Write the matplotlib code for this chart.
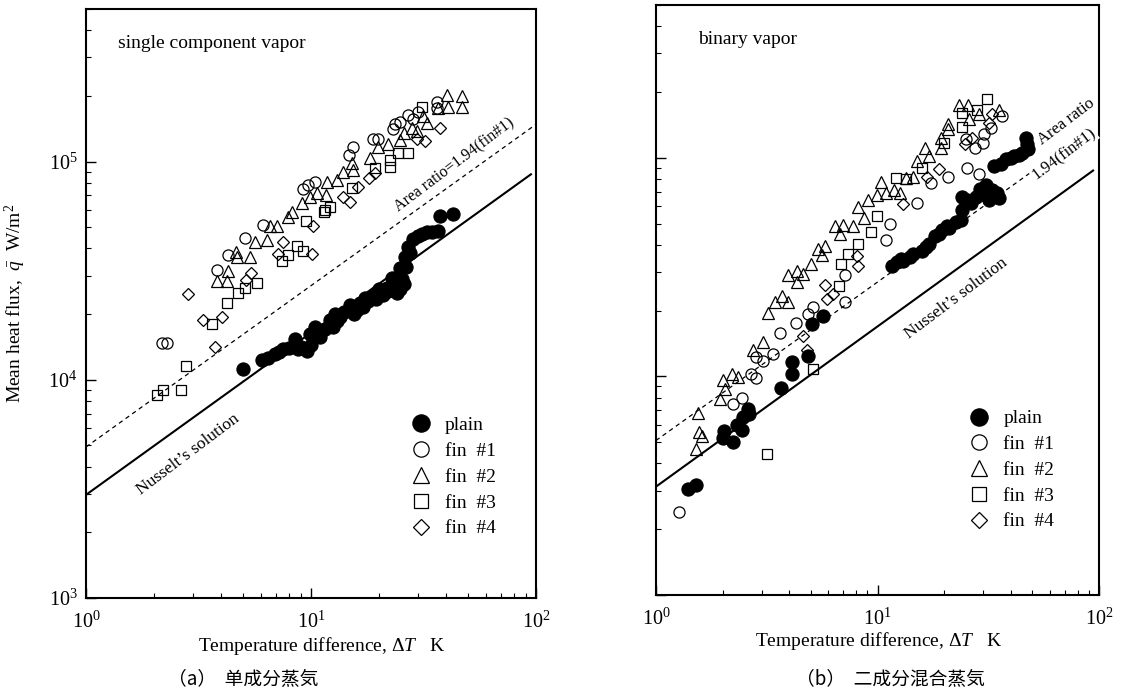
import matplotlib
matplotlib.use("Agg")
import matplotlib.pyplot as plt
from matplotlib.lines import Line2D
from matplotlib.ticker import LogLocator, NullFormatter

plt.rcParams['font.family'] = ['Liberation Serif', 'Noto Sans CJK SC', 'DejaVu Sans']
plt.rcParams['mathtext.fontset'] = 'custom'
plt.rcParams['mathtext.rm'] = 'Liberation Serif'
plt.rcParams['mathtext.it'] = 'Liberation Serif:italic'
plt.rcParams['mathtext.bf'] = 'Liberation Serif:bold'

# ---------------- data: (a) single component vapor ----------------
plain_a_x = [4.99, 6.06, 6.44, 6.92, 7.51, 8.49, 8.75, 9.60, 9.90, 10.4, 11.0, 12.1, 13.5, 14.9,
             16.0, 17.4, 18.9, 20.3, 21.8, 22.9, 24.1, 24.9, 26.2, 27.0, 29.9, 32.8, 36.7, 37.4, 42.8,
             10.0, 10.8, 11.5, 12.5, 13.0, 14.0, 15.5, 16.5, 18.0, 19.5, 21.0, 22.0, 23.5, 25.0,
             25.5, 26.5, 27.5, 28.5, 31.0, 34.5, 9.0, 7.2, 8.0, 12.8, 17.0, 20.0, 24.0, 26.0]
plain_a_y = [1.12e4, 1.23e4, 1.26e4, 1.31e4, 1.38e4, 1.54e4, 1.39e4, 1.35e4, 1.62e4, 1.75e4, 1.57e4,
             1.88e4, 1.94e4, 2.21e4, 2.08e4, 2.38e4, 2.43e4, 2.51e4, 2.64e4, 2.93e4, 2.78e4, 3.24e4,
             3.67e4, 4.07e4, 4.56e4, 4.75e4, 4.81e4, 5.61e4, 5.73e4,
             1.45e4, 1.65e4, 1.70e4, 1.75e4, 1.85e4, 2.05e4, 2.00e4, 2.25e4, 2.30e4, 2.35e4, 2.45e4,
             2.55e4, 2.60e4, 2.60e4, 2.90e4, 3.30e4, 3.80e4, 4.40e4, 4.65e4, 4.75e4, 1.42e4, 1.34e4,
             1.40e4, 2.00e4, 2.15e4, 2.60e4, 2.50e4, 2.75e4]

fin1_a_x = [2.18, 2.29, 3.82, 4.28, 5.09, 6.12, 9.21, 9.70, 10.4, 14.8, 15.4, 18.9, 19.9, 23.1,
            23.6, 24.9, 27.0, 29.9, 28.4, 36.3, 36.3]
fin1_a_y = [1.48e4, 1.48e4, 3.18e4, 3.72e4, 4.47e4, 5.12e4, 7.48e4, 7.80e4, 8.05e4, 1.07e5, 1.16e5,
            1.27e5, 1.27e5, 1.41e5, 1.48e5, 1.51e5, 1.64e5, 1.68e5, 1.56e5, 1.88e5, 1.75e5]

fin2_a_x = [3.82, 4.23, 4.28, 4.69, 4.64, 5.35, 5.64, 6.37, 7.06, 6.57, 7.90, 8.24, 9.12, 9.91,
            10.6, 11.7, 11.8, 13.1, 13.9, 15.2, 15.4, 18.3, 19.9, 22.0, 24.9, 25.9, 28.1, 29.6,
            32.8, 31.5, 36.7, 40.2, 40.6, 46.9, 46.9]
fin2_a_y = [2.84e4, 2.84e4, 3.15e4, 3.64e4, 3.86e4, 3.67e4, 4.29e4, 4.38e4, 5.06e4, 5.06e4, 5.55e4,
            5.85e4, 6.49e4, 6.90e4, 7.19e4, 7.05e4, 8.05e4, 8.22e4, 8.93e4, 9.80e4, 9.12e4, 1.04e5,
            1.16e5, 1.20e5, 1.26e5, 1.35e5, 1.42e5, 1.38e5, 1.50e5, 1.61e5, 1.75e5, 2.02e5, 1.77e5,
            2.00e5, 1.77e5]

fin3_a_x = [2.07, 2.20, 2.64, 2.78, 3.63, 4.23, 4.74, 5.09, 5.75, 7.43, 7.90, 8.66, 9.21, 9.50,
            11.5, 12.1, 15.2, 19.2, 22.4, 22.4, 24.4, 27.0, 31.1, 11.4]
fin3_a_y = [8.51e3, 8.98e3, 8.98e3, 1.16e4, 1.80e4, 2.24e4, 2.51e4, 2.64e4, 2.78e4, 3.49e4, 3.72e4,
            4.11e4, 3.91e4, 5.32e4, 5.97e4, 6.22e4, 7.57e4, 9.31e4, 1.02e5, 9.40e4, 1.09e5, 1.10e5,
            1.77e5, 5.90e4]

fin4_a_x = [2.84, 3.31, 4.02, 3.74, 5.41, 5.14, 7.51, 7.13, 10.1, 10.2, 13.9, 14.9, 16.2, 18.1,
            19.2, 29.6, 32.1, 37.4]
fin4_a_y = [2.48e4, 1.88e4, 1.94e4, 1.41e4, 3.08e4, 2.86e4, 4.29e4, 3.78e4, 3.78e4, 5.06e4, 6.90e4,
            6.55e4, 7.64e4, 8.40e4, 8.83e4, 1.27e5, 1.24e5, 1.42e5]

nusselt_a_x = [1.0, 95.0]
nusselt_a_y = [2.97e3, 8.74e4]
area_a_x = [1.0, 100.0]
area_a_y = [4.92e3, 1.48e5]

# ---------------- data: (b) binary vapor ----------------
plain_b_x = [1.39, 1.51, 2.02, 2.00, 2.22, 2.32, 2.44, 2.47, 2.60, 2.62, 3.66, 4.10, 4.10, 4.84,
             5.04, 5.65, 11.6, 12.2, 13.0, 14.4, 15.8, 17.1, 18.1, 19.6, 21.1, 23.9, 24.1, 25.4,
             24.1, 27.9, 31.0, 33.0, 35.5, 32.0, 33.7, 38.1, 41.4, 45.0, 47.4, 46.9,
             12.8, 14.0, 16.5, 19.0, 20.5, 22.5, 26.5, 29.0, 30.0, 34.5, 36.0, 40.0, 43.5, 48.0]
plain_b_y = [3.06e3, 3.20e3, 5.60e3, 5.20e3, 4.99e3, 6.01e3, 5.71e3, 6.53e3, 7.09e3, 6.74e3, 8.83e3,
             1.03e4, 1.16e4, 1.24e4, 1.73e4, 1.88e4, 3.20e4, 3.34e4, 3.37e4, 3.62e4, 3.73e4, 4.02e4,
             4.37e4, 4.69e4, 4.79e4, 5.20e4, 5.77e4, 6.40e4, 6.61e4, 6.61e4, 7.48e4, 7.09e4, 6.53e4,
             6.40e4, 9.20e4, 9.90e4, 1.02e5, 1.05e5, 1.16e5, 1.23e5,
             3.45e4, 3.50e4, 3.90e4, 4.50e4, 4.90e4, 5.10e4, 6.20e4, 7.20e4, 6.80e4, 6.90e4, 9.40e4,
             1.00e5, 1.03e5, 1.10e5]

fin1_b_x = [1.27, 2.22, 2.44, 2.68, 2.82, 2.82, 3.03, 3.37, 3.62, 4.27, 4.84, 5.10, 7.10, 7.10,
            10.9, 11.4, 15.0, 17.5, 20.9, 25.4, 28.8, 27.6, 30.0, 30.3, 32.6, 36.6, 25.2]
fin1_b_y = [2.39e3, 7.48e3, 7.96e3, 1.03e4, 9.80e3, 1.23e4, 1.18e4, 1.26e4, 1.58e4, 1.75e4, 1.92e4,
            2.07e4, 2.18e4, 2.91e4, 4.19e4, 4.99e4, 6.21e4, 7.64e4, 8.13e4, 9.02e4, 8.47e4, 1.11e5,
            1.17e5, 1.28e5, 1.37e5, 1.55e5, 1.22e5]

fin2_b_x = [1.51, 1.56, 1.61, 1.55, 1.94, 2.05, 2.00, 2.20, 2.34, 2.73, 3.03, 3.20, 3.44, 3.93,
            3.70, 3.93, 4.32, 4.32, 4.59, 4.99, 5.37, 5.59, 5.77, 6.40, 6.95, 6.74, 7.71, 8.20,
            8.65, 9.02, 9.90, 10.4, 10.9, 11.9, 12.6, 13.5, 14.4, 15.0, 16.3, 17.1, 19.4, 19.4,
            20.7, 20.7, 23.4, 25.7, 28.8, 26.0, 35.5]
fin2_b_y = [4.65e3, 5.54e3, 5.31e3, 6.81e3, 7.87e3, 8.73e3, 9.60e3, 1.02e4, 9.89e3, 1.32e4, 1.44e4,
            1.94e4, 2.20e4, 2.20e4, 2.32e4, 2.91e4, 3.03e4, 2.71e4, 2.94e4, 3.27e4, 3.81e4, 3.58e4,
            3.94e4, 4.85e4, 4.94e4, 4.46e4, 4.85e4, 5.96e4, 5.31e4, 6.40e4, 6.75e4, 7.72e4, 6.89e4,
            7.09e4, 6.89e4, 8.04e4, 8.13e4, 9.69e4, 1.11e5, 1.02e5, 1.11e5, 1.23e5, 1.42e5, 1.35e5,
            1.75e5, 1.75e5, 1.58e5, 1.51e5, 1.66e5]

fin3_b_x = [3.16, 5.10, 6.67, 6.81, 7.33, 8.13, 9.30, 9.90, 12.1, 13.4, 15.8, 20.0, 24.1, 24.1,
            28.2, 31.3]
fin3_b_y = [4.41e3, 1.08e4, 2.60e4, 3.27e4, 3.62e4, 4.02e4, 4.59e4, 5.42e4, 8.04e4, 7.96e4, 9.02e4,
            1.17e5, 1.39e5, 1.60e5, 1.66e5, 1.86e5]

fin4_b_x = [4.59, 4.79, 5.77, 6.27, 8.04, 8.13, 13.0, 16.8, 19.0, 24.7, 26.8, 32.0, 33.0, 5.89]
fin4_b_y = [1.53e4, 1.32e4, 2.62e4, 2.39e4, 3.55e4, 3.20e4, 6.14e4, 8.13e4, 8.92e4, 1.16e5, 1.23e5,
            1.44e5, 1.58e5, 2.27e4]

nusselt_b_x = [1.0, 94.0]
nusselt_b_y = [3.13e3, 8.74e4]
area_b_x = [1.0, 48.4]
area_b_y = [5.09e3, 8.47e4]

legend_labels = ["plain", "fin  #1", "fin  #2", "fin  #3", "fin  #4"]
panel_titles = ["single component vapor", "binary vapor"]
captions = ["（a）  单成分蒸気", "（b）  二成分混合蒸気"]
x_label = r"Temperature difference, $\Delta\mathit{T}$   K"
y_label = r"Mean heat flux,  $\bar{q}$  W/m$^2$"

# ---------------- figure ----------------
fig = plt.figure(figsize=(11.21, 6.92), dpi=100)
ax_a = fig.add_axes([0.0767, 0.1358, 0.4014, 0.8512])
ax_b = fig.add_axes([0.5852, 0.1402, 0.3952, 0.8526])

styles = [
    dict(marker='o', ms=9.5, mfc='black', mec='black', mew=0.8),
    dict(marker='o', ms=8.0, mfc='none', mec='black', mew=0.9),
    dict(marker='^', ms=8.5, mfc='none', mec='black', mew=0.9),
    dict(marker='s', ms=7.5, mfc='none', mec='black', mew=0.9),
    dict(marker='D', ms=6.6, mfc='none', mec='black', mew=0.9),
]
leg_sizes = [12.5, 11.0, 11.0, 10.0, 8.0]

panels = [
    (ax_a, [(plain_a_x, plain_a_y), (fin1_a_x, fin1_a_y), (fin2_a_x, fin2_a_y),
            (fin3_a_x, fin3_a_y), (fin4_a_x, fin4_a_y)],
     (nusselt_a_x, nusselt_a_y), (area_a_x, area_a_y)),
    (ax_b, [(plain_b_x, plain_b_y), (fin1_b_x, fin1_b_y), (fin2_b_x, fin2_b_y),
            (fin3_b_x, fin3_b_y), (fin4_b_x, fin4_b_y)],
     (nusselt_b_x, nusselt_b_y), (area_b_x, area_b_y)),
]

for ax, series, nus, area in panels:
    ax.set_xscale('log')
    ax.set_yscale('log')
    ax.set_xlim(1, 100)
    ax.set_ylim(1e3, 5e5)
    ax.plot(nus[0], nus[1], color='black', lw=1.5, zorder=2)
    ax.plot(area[0], area[1], color='black', lw=0.9, ls=(0, (3.5, 3.0)), zorder=2)
    for (xs, ys), st in zip(series, styles):
        ax.plot(xs, ys, ls='none', zorder=3, **st)
    for sp in ax.spines.values():
        sp.set_linewidth(1.5)
    ax.xaxis.set_major_locator(LogLocator(base=10, numticks=10))
    ax.xaxis.set_minor_locator(LogLocator(base=10, subs=range(2, 10), numticks=10))
    ax.yaxis.set_major_locator(LogLocator(base=10, numticks=10))
    ax.yaxis.set_minor_locator(LogLocator(base=10, subs=range(2, 10), numticks=10))
    ax.xaxis.set_minor_formatter(NullFormatter())
    ax.yaxis.set_minor_formatter(NullFormatter())
    ax.tick_params(which='both', direction='in', top=False, right=False, labelsize=14.5)
    ax.tick_params(which='major', length=7, width=1.0)
    ax.tick_params(which='minor', length=3.5, width=0.8)
    ax.tick_params(axis='x', which='major', pad=10)
    ax.tick_params(axis='y', which='major', pad=6)
    ax.set_xlabel(x_label, fontsize=14, labelpad=2)
    handles = [Line2D([], [], ls='none', **{**st, 'ms': s}) for st, s in zip(styles, leg_sizes)]
    ax.legend(handles, legend_labels, loc='upper left', frameon=False, fontsize=14,
              handlelength=1.0, handletextpad=0.75, labelspacing=0.42, borderpad=0.0,
              borderaxespad=0.0,
              bbox_to_anchor=(0.722, 0.308) if ax is ax_a else (0.707, 0.314))

ax_b.tick_params(labelleft=False)
ax_a.xaxis.set_label_coords(0.524, -0.062)
ax_b.xaxis.set_label_coords(0.503, -0.060)
ax_a.set_ylabel(y_label, fontsize=14)
ax_a.yaxis.set_label_coords(-0.128, 0.5)

# annotations
ax_a.text(0.071, 0.942, panel_titles[0], transform=ax_a.transAxes, fontsize=14, va='center', ha='left')
ax_b.text(0.095, 0.941, panel_titles[1], transform=ax_b.transAxes, fontsize=14, va='center', ha='left')
ax_a.text(0.82, 0.735, "Area ratio=1.94(fin#1)", transform=ax_a.transAxes, fontsize=11.5,
          rotation=37, ha='center', va='center', rotation_mode='anchor')
ax_a.text(0.227, 0.243, "Nusselt’s solution", transform=ax_a.transAxes, fontsize=12.5,
          rotation=37, ha='center', va='center', rotation_mode='anchor')
ax_b.text(0.925, 0.803, "Area ratio", transform=ax_b.transAxes, fontsize=12,
          rotation=37, ha='center', va='center', rotation_mode='anchor')
ax_b.text(0.921, 0.747, "1.94(fin#1)", transform=ax_b.transAxes, fontsize=12,
          rotation=37, ha='center', va='center', rotation_mode='anchor',
          bbox=dict(facecolor='white', edgecolor='none', pad=0.5))
ax_b.text(0.677, 0.503, "Nusselt’s solution", transform=ax_b.transAxes, fontsize=12.5,
          rotation=37, ha='center', va='center', rotation_mode='anchor')

fig.text(243 / 1121, 1 - 679 / 692, captions[0], fontsize=13.5, ha='center', va='center',
         family=['Noto Sans CJK SC', 'Liberation Serif'])
fig.text(890 / 1121, 1 - 679 / 692, captions[1], fontsize=13.5, ha='center', va='center',
         family=['Noto Sans CJK SC', 'Liberation Serif'])

fig.savefig("out.png", dpi=100)
